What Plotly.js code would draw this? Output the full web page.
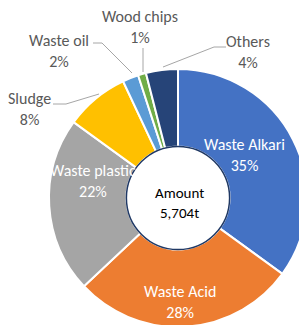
<!DOCTYPE html>
<html>
<head>
<meta charset="utf-8">
<script src="https://cdn.plot.ly/plotly-3.0.1.min.js"></script>
<style>
html,body{margin:0;padding:0;overflow:hidden;background:#fff;}
#chart{width:400px;height:400px;}
</style>
</head>
<body>
<div id="chart"></div>
<script>
// ---- data ----
const categories = ['Waste Alkari','Waste Acid','Waste plastic','Sludge','Waste oil','Wood chips','Others'];
const shares = [35, 28, 22, 8, 2, 1, 4];            // percent
const sliceColors = ['#4472C4','#ED7D31','#A5A5A5','#FFC000','#5B9BD5','#70AD47','#264478'];
const centerTitle = 'Amount';
const totalLabel = '5,704t';

// ---- layout constants (pixels) ----
const W = 400, H = 400;
const cx = 178, cy = 198, R = 129, holeFrac = 0.40;
const FONT = 'Carlito, Lato, "Open Sans", sans-serif';

// label placement (pixels) ; inside labels white, outside labels grey with leader lines
const labelPos = [
  {x:244, y:155, inside:true},
  {x:180, y:302, inside:true},
  {x:93,  y:181, inside:true},
  {x:29,  y:109, line:'M 53 104 L 66 104 L 99 94'},
  {x:59,  y:51,  line:'M 93 43 L 102 43 L 132 73'},
  {x:140, y:27,  line:'M 143 48 L 143 72'},
  {x:248, y:52,  line:'M 163 67 L 214 47 L 226 47'}
];

const annotations = [];
const shapes = [];
labelPos.forEach((o,i)=>{
  annotations.push({
    x:o.x, y:o.y, xref:'x', yref:'y', showarrow:false,
    text: categories[i] + '<br>' + shares[i] + '%',
    font:{family:FONT, size:16, color: o.inside ? '#FFFFFF' : '#595959'}, align:'center'
  });
  if (o.line) shapes.push({type:'path', path:o.line, xref:'x', yref:'y',
    line:{color:'#A6A6A6', width:1}});
});
annotations.push({
  x:cx+1, y:cy+5, xref:'x', yref:'y', showarrow:false,
  text: centerTitle + '<br>' + totalLabel,
  font:{family:FONT, size:15, color:'#000000'}, align:'center'
});
const hr = R*holeFrac;
shapes.push({type:'circle', xref:'x', yref:'y',
  x0:cx-hr, x1:cx+hr, y0:cy-hr, y1:cy+hr,
  line:{color:'#1F3864', width:1.5}, fillcolor:'rgba(0,0,0,0)'});

const trace = {
  type:'pie',
  labels: categories,
  values: shares,
  sort:false,
  direction:'clockwise',
  rotation:0,
  hole: holeFrac,
  marker:{colors: sliceColors, line:{color:'#FFFFFF', width:2}},
  textinfo:'none',
  domain:{x:[(cx-R)/W,(cx+R)/W], y:[(H-cy-R)/H,(H-cy+R)/H]},
  showlegend:false,
  hoverinfo:'none'
};

const layout = {
  width:W, height:H,
  margin:{l:0,r:0,t:0,b:0},
  paper_bgcolor:'#FFFFFF', plot_bgcolor:'rgba(0,0,0,0)',
  xaxis:{range:[0,W], visible:false, fixedrange:true},
  yaxis:{range:[H,0], visible:false, fixedrange:true},
  showlegend:false,
  annotations: annotations,
  shapes: shapes
};

Plotly.newPlot('chart',[trace],layout,{staticPlot:true, displayModeBar:false});
</script>
</body>
</html>
